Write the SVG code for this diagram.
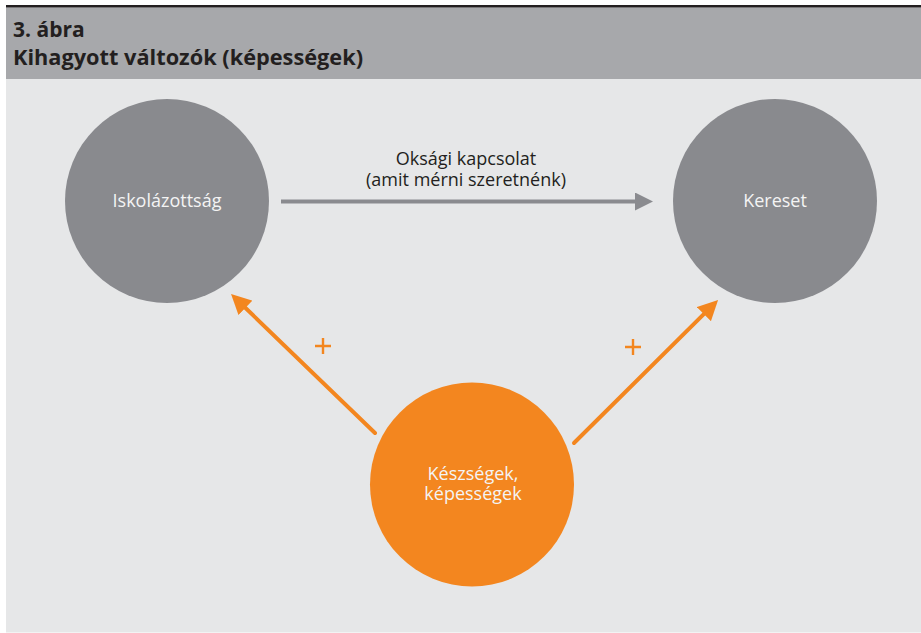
<svg xmlns="http://www.w3.org/2000/svg" width="921" height="633" viewBox="0 0 921 633">
<style>
.title{font-family:"Open Sans","Noto Sans","Liberation Sans",sans-serif;font-weight:bold;font-size:21px;fill:#231f20}
.node{font-family:"Open Sans","Noto Sans","Liberation Sans",sans-serif;font-size:18px;fill:#f4f4f4;text-anchor:middle}
.lbl{font-family:"Open Sans","Noto Sans","Liberation Sans",sans-serif;font-size:18px;fill:#231f20;text-anchor:middle}
.gray{fill:#898a8e}
.orange{fill:#f3861f}
.garrow{stroke:#8a8b8f;stroke-width:4;fill:none}
.oarrow{stroke:#f3861f;stroke-width:4;fill:none;stroke-linecap:round}
.plus{stroke:#f3861f;stroke-width:2.4;fill:none}
</style>
<defs>
<marker id="ag" markerUnits="userSpaceOnUse" markerWidth="18" markerHeight="18" refX="2" refY="9" orient="auto">
<path d="M0,0 L18,9 L0,18 z" fill="#8a8b8f"/>
</marker>
<marker id="ao" markerUnits="userSpaceOnUse" markerWidth="20" markerHeight="20" refX="2" refY="10" orient="auto">
<path d="M0,0 L20,10 L0,20 z" fill="#f3861f"/>
</marker>
</defs>
<rect x="0" y="0" width="921" height="633" fill="#ffffff"/>
<rect x="6" y="7.5" width="915" height="625" fill="#e6e7e8"/>
<rect x="6" y="7.5" width="915" height="71.5" fill="#a7a8ab"/>
<rect x="6" y="5" width="915" height="2.5" fill="#231f20"/>
<text class="title" x="13" y="37">3. ábra</text>
<text class="title" x="13" y="65" textLength="350" lengthAdjust="spacingAndGlyphs">Kihagyott változók (képességek)</text>
<g id="connectors">
<line class="garrow" x1="281" y1="201.5" x2="637" y2="201.5" marker-end="url(#ag)"/>
<line class="oarrow" x1="375" y1="433" x2="244" y2="306.5" marker-end="url(#ao)"/>
<line class="oarrow" x1="574" y1="443" x2="705.3" y2="312.7" marker-end="url(#ao)"/>
<text class="lbl" x="466" y="165">Oksági kapcsolat<tspan x="466" dy="21">(amit mérni szeretnénk)</tspan></text>
<path class="plus" d="M315,346 H331 M323,338 V354"/>
<path class="plus" d="M625,347 H641 M633,339 V355"/>
</g>
<g id="iskolazottsag">
<circle class="gray" cx="167" cy="201" r="102"/>
<text class="node" x="167" y="207">Iskolázottság</text>
</g>
<g id="kereset">
<circle class="gray" cx="775" cy="201" r="102"/>
<text class="node" x="775" y="207">Kereset</text>
</g>
<g id="keszsegek">
<circle class="orange" cx="472" cy="484.5" r="102"/>
<text class="node" x="473" y="480">Készségek,<tspan x="473" dy="20">képességek</tspan></text>
</g>
</svg>
